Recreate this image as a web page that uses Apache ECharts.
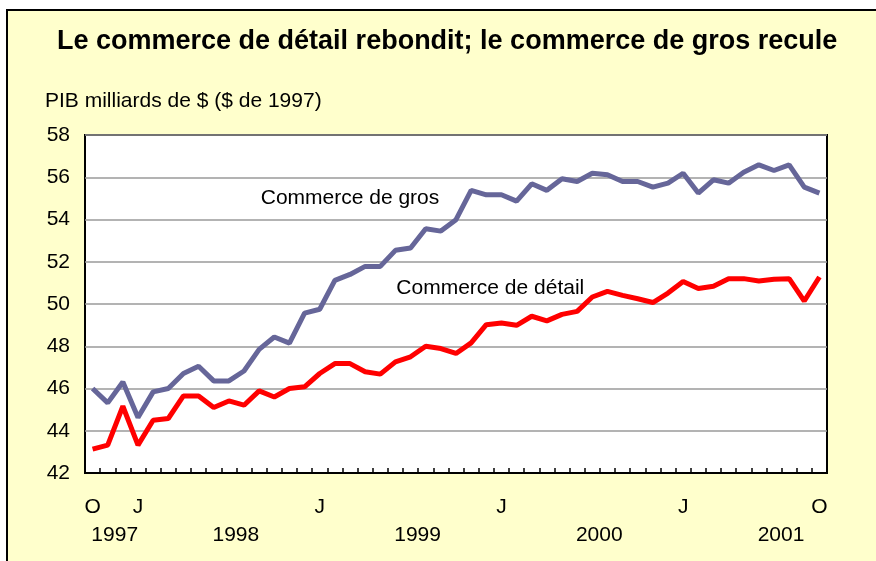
<!DOCTYPE html>
<html>
<head>
<meta charset="utf-8">
<script src="https://cdn.jsdelivr.net/npm/echarts@6/dist/echarts.min.js"></script>
<style>
  body { margin: 0; background: #fff; }
  #bg { position: absolute; left: 6px; top: 9px; right: 0; bottom: 0;
        border-left: 2px solid #000; border-top: 2px solid #000; background: #FFFFCC; }
  #chart { position: absolute; left: 0; top: 0; width: 876px; height: 561px; }
</style>
</head>
<body>
<div id="bg"></div>
<div id="chart"></div>
<script>
// mois, octobre 1997 a octobre 2001
var months = [
  '1997-10','1997-11','1997-12',
  '1998-01','1998-02','1998-03','1998-04','1998-05','1998-06','1998-07','1998-08','1998-09','1998-10','1998-11','1998-12',
  '1999-01','1999-02','1999-03','1999-04','1999-05','1999-06','1999-07','1999-08','1999-09','1999-10','1999-11','1999-12',
  '2000-01','2000-02','2000-03','2000-04','2000-05','2000-06','2000-07','2000-08','2000-09','2000-10','2000-11','2000-12',
  '2001-01','2001-02','2001-03','2001-04','2001-05','2001-06','2001-07','2001-08','2001-09','2001-10'
];

var gros = [
  46.0, 45.32, 46.31, 44.63, 45.84, 46.0, 46.71, 47.05, 46.36, 46.36, 46.83, 47.85,
  48.44, 48.15, 49.57, 49.75, 51.12, 51.4, 51.78, 51.78, 52.54, 52.65, 53.56, 53.45,
  53.99, 55.38, 55.17, 55.17, 54.87, 55.69, 55.38, 55.93, 55.8, 56.19, 56.12, 55.8,
  55.8, 55.53, 55.72, 56.19, 55.25, 55.88, 55.72, 56.24, 56.59, 56.32, 56.59, 55.53,
  55.25
];

var detail = [
  43.13, 43.32, 45.16, 43.32, 44.5, 44.58, 45.65, 45.65, 45.1, 45.41, 45.21, 45.89,
  45.6, 46.0, 46.08, 46.71, 47.18, 47.18, 46.79, 46.68, 47.26, 47.5, 48.0, 47.89,
  47.66, 48.16, 49.02, 49.1, 48.99, 49.42, 49.2, 49.51, 49.65, 50.33, 50.6, 50.41,
  50.25, 50.07, 50.52, 51.07, 50.73, 50.84, 51.2, 51.2, 51.09, 51.17, 51.2, 50.14,
  51.28
];

// etiquettes de l'axe des x
var letterIdx = [0, 3, 15, 27, 39, 48];
var letterTxt = ['O', 'J', 'J', 'J', 'J', 'O'];
var yearIdx = [1, 9, 21, 33, 45];
var yearTxt = ['1997', '1998', '1999', '2000', '2001'];

var titre = 'Le commerce de détail rebondit; le commerce de gros recule';
var titreY = 'PIB milliards de $ ($ de 1997)';
var nomGros = 'Commerce de gros';
var nomDetail = 'Commerce de détail';

var FONT = '"Liberation Sans", Arial, sans-serif';

var chart = echarts.init(document.getElementById('chart'));

var option = {
  animation: false,
  backgroundColor: 'transparent',
  title: [
    {
      text: titre,
      left: 57,
      top: 28,
      padding: 0,
      textStyle: { fontFamily: FONT, fontSize: 27, fontWeight: 'bold', color: '#000' }
    },
    {
      text: titreY,
      left: 45,
      top: 91,
      padding: 0,
      textStyle: { fontFamily: FONT, fontSize: 21, fontWeight: 'normal', color: '#000' }
    }
  ],
  grid: {
    left: 85,
    top: 135,
    width: 742,
    height: 338,
    show: true,
    backgroundColor: '#fff',
    borderColor: '#000',
    borderWidth: 2
  },
  xAxis: [
    {
      type: 'category',
      data: months,
      boundaryGap: true,
      axisLine: { show: true, lineStyle: { color: '#000', width: 2 } },
      axisTick: { show: true, inside: true, interval: 0, length: 5, lineStyle: { color: '#000', width: 1.5 } },
      axisLabel: {
        interval: function (i) { return letterIdx.indexOf(i) >= 0; },
        formatter: function (v, i) {
          var k = letterIdx.indexOf(i);
          return k >= 0 ? letterTxt[k] : '';
        },
        margin: 24,
        fontFamily: FONT, fontSize: 21, color: '#000'
      },
      splitLine: { show: false }
    },
    {
      type: 'category',
      data: months,
      position: 'bottom',
      boundaryGap: true,
      axisLine: { show: false },
      axisTick: { show: false },
      axisLabel: {
        interval: function (i) { return yearIdx.indexOf(i) >= 0; },
        formatter: function (v, i) {
          var k = yearIdx.indexOf(i);
          return k >= 0 ? '{y|' + yearTxt[k] + '}' : '';
        },
        margin: 52,
        rich: { y: { fontFamily: FONT, fontSize: 21, color: '#000', padding: [0, 0, 0, 14] } }
      },
      splitLine: { show: false }
    }
  ],
  yAxis: {
    type: 'value',
    min: 42,
    max: 58,
    interval: 2,
    axisLine: { show: false },
    axisTick: { show: false },
    axisLabel: { margin: 15, fontFamily: FONT, fontSize: 21, color: '#000' },
    splitLine: { show: true, lineStyle: { color: '#9a9a9a', width: 1.5 } }
  },
  series: [
    {
      name: nomGros,
      type: 'line',
      xAxisIndex: 0,
      data: gros,
      symbol: 'none',
      lineStyle: { color: '#666699', width: 5 },
      itemStyle: { color: '#666699' },
      markPoint: {
        symbol: 'circle',
        symbolSize: 0,
        data: [{ coord: [months[17], 55.0] }],
        label: {
          show: true, position: 'inside', formatter: nomGros,
          fontFamily: FONT, fontSize: 21, color: '#000'
        }
      }
    },
    {
      name: nomDetail,
      type: 'line',
      xAxisIndex: 0,
      data: detail,
      symbol: 'none',
      lineStyle: { color: '#ff0000', width: 5 },
      itemStyle: { color: '#ff0000' },
      markPoint: {
        symbol: 'circle',
        symbolSize: 0,
        data: [{ coord: [months[26], 50.74] }],
        label: {
          show: true, position: 'inside', formatter: nomDetail, offset: [4, 0],
          fontFamily: FONT, fontSize: 21, color: '#000'
        }
      }
    }
  ]
};

chart.setOption(option);
</script>
</body>
</html>
